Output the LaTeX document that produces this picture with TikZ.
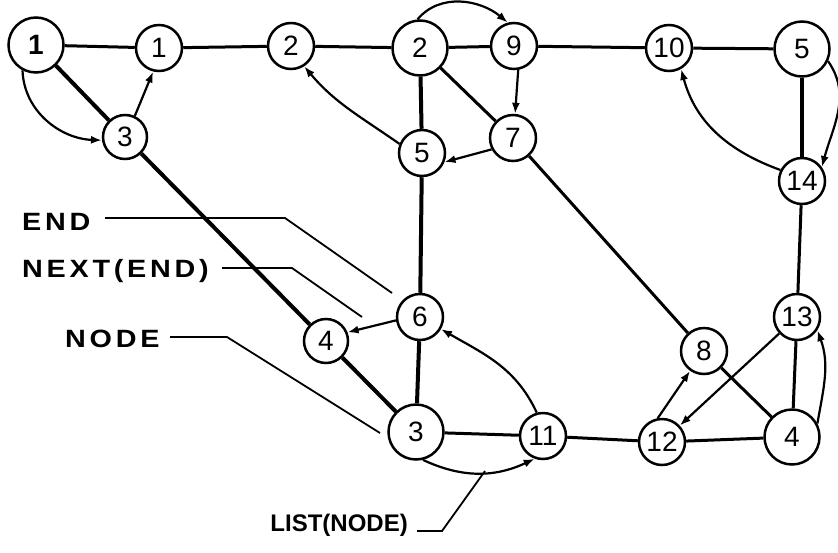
\documentclass[tikz,border=0pt]{standalone}
\usepackage{fontspec}
\setmainfont{Liberation Sans}
\usetikzlibrary{arrows.meta}
\begin{document}
\begin{tikzpicture}[x=1pt,y=1pt,
  vtx/.style={circle,draw,line width=2.5pt,fill=white,inner sep=0pt,minimum size=46pt,font=\fontsize{28}{28}\selectfont},
  big/.style={minimum size=55pt},
  sml/.style={minimum size=44pt},
  edge/.style={line width=3pt},
  heavy/.style={line width=4pt},
  arc/.style={line width=2.2pt,-{Latex[length=11pt,width=8pt]}},
  lead/.style={line width=1.8pt},
  lbl/.style={font=\bfseries\fontsize{25}{25}\selectfont,inner sep=0pt}
]
\useasboundingbox (0,0) rectangle (838,-552);
% vertices
\node[vtx,big] (A1) at (36,-45) {\bfseries 1};
\node[vtx] (B1) at (159,-48) {1};
\node[vtx] (C2) at (291,-46) {2};
\node[vtx,big] (D2) at (420,-48) {2};
\node[vtx] (E9) at (514,-46) {9};
\node[vtx] (F10) at (669,-48) {10};
\node[vtx,big] (G5) at (802,-49) {5};
\node[vtx,sml] (H3) at (125,-137) {3};
\node[vtx] (I5) at (422,-153) {5};
\node[vtx] (J7) at (513,-138) {7};
\node[vtx] (K14) at (802,-181) {14};
\node[vtx] (L6) at (420,-317) {6};
\node[vtx,sml] (M4) at (326,-341) {4};
\node[vtx,big] (N3) at (416,-432) {3};
\node[vtx] (O11) at (543,-436) {11};
\node[vtx] (P8) at (704,-351) {8};
\node[vtx] (Q13) at (797,-317) {13};
\node[vtx] (R12) at (662,-442) {12};
\node[vtx,big] (S4) at (792,-437) {4};
% undirected edges
\draw[edge] (A1) -- (B1);
\draw[edge] (B1) -- (C2);
\draw[edge] (C2) -- (D2);
\draw[edge] (D2) -- (E9);
\draw[edge] (E9) -- (F10);
\draw[edge] (F10) -- (G5);
\draw[heavy] (A1) -- (H3);
\draw[heavy] (H3) -- (M4);
\draw[heavy] (D2) -- (I5);
\draw[edge] (D2) -- (J7);
\draw[heavy] (I5) -- (L6);
\draw[edge] (J7) -- (P8);
\draw[heavy] (G5) -- (K14);
\draw[edge] (K14) -- (Q13);
\draw[heavy] (L6) -- (N3);
\draw[heavy] (M4) -- (N3);
\draw[edge] (N3) -- (O11);
\draw[edge] (O11) -- (R12);
\draw[edge] (R12) -- (S4);
\draw[edge] (Q13) -- (S4);
\draw[edge] (P8) -- (S4);
% directed arcs
\draw[arc] (A1.242) to[out=272,in=178] (H3.188);
\draw[arc] (H3.65) -- (B1.-104);
\draw[arc] (I5.158) to[out=145,in=-50] (C2.-57);
\draw[arc] (D2.95) to[out=50,in=140] (E9.105);
\draw[arc] (E9.-80) -- (J7.85);
\draw[arc] (J7.208) -- (I5.-22);
\draw[arc] (K14.153) to[out=160,in=-75] (F10.-60);
\draw[arc] (G5.-25) to[out=-55,in=75] (K14.35);
\draw[arc] (L6.188) -- (M4.22);
\draw[arc] (O11.105) to[out=115,in=-30] (L6.-30);
\draw[arc] (N3.-76) to[out=-25,in=205] (O11.-110);
\draw[arc] (R12.100) -- (P8.235);
\draw[arc] (Q13) -- (R12);
\draw[arc] (S4.28) to[out=80,in=-70] (Q13.-33);
% labels
\node[lbl,anchor=base west] (tEND) at (22,-230) {\addfontfeatures{FakeStretch=1.15,LetterSpace=15}END};
\node[lbl,anchor=base west] (tNEXT) at (22,-277) {\addfontfeatures{FakeStretch=1.15,LetterSpace=15}NEXT(END)};
\node[lbl,anchor=base west] (tNODE) at (65,-347) {\addfontfeatures{FakeStretch=1.15,LetterSpace=15}NODE};
\node[lbl,anchor=base east,font=\bfseries\fontsize{24}{24}\selectfont] (tLIST) at (408,-531) {LIST(NODE)};
\coordinate (e1) at (105,-218); \coordinate (e2) at (285,-218); \coordinate (e3) at (392,-293);
\coordinate (n1) at (222,-268); \coordinate (n2) at (292,-268); \coordinate (n3) at (362,-317);
\coordinate (d1) at (170,-337); \coordinate (d2) at (227,-337); \coordinate (d3) at (380,-433);
\coordinate (l1) at (417,-531); \coordinate (l2) at (442,-531); \coordinate (l3) at (485,-471);
\draw[lead] (e1) -- (e2) -- (e3);
\draw[lead] (n1) -- (n2) -- (n3);
\draw[lead] (d1) -- (d2) -- (d3);
\draw[lead] (l1) -- (l2) -- (l3);
\end{tikzpicture}
\end{document}
